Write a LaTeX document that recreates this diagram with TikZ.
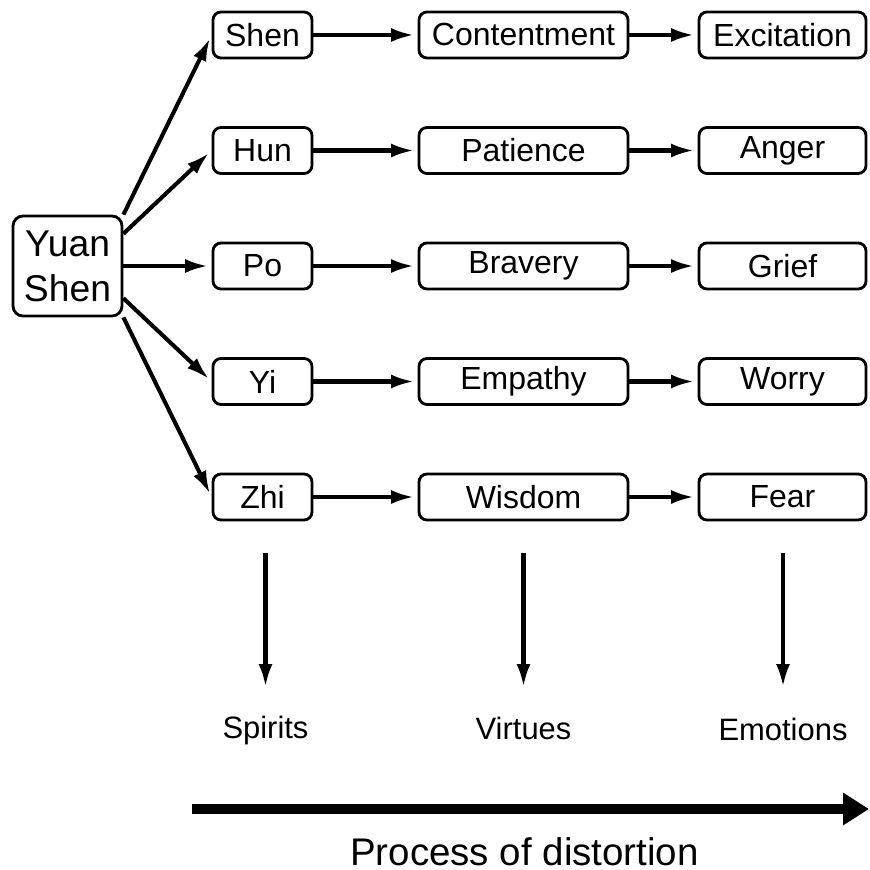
\documentclass[tikz,border=0pt]{standalone}
\usepackage{fontspec}
\setmainfont{Liberation Sans}
\usetikzlibrary{arrows.meta}

\tikzset{
  BoxNode/.style={draw,rounded corners=0.08cm,line width=0.8pt,minimum height=0.46cm,
    inner sep=0pt,font=\fontsize{9.1}{11}\selectfont},
  FlowArrow/.style={line width=1.15pt,-{Latex[length=0.23cm,width=0.14cm]},shorten >=1pt},
  LabelNode/.style={inner sep=0pt,anchor=north,font=\fontsize{8.8}{10.5}\selectfont}
}

\begin{document}
\begin{tikzpicture}
\useasboundingbox[fill=white] (0,0) rectangle (8.7,-8.7);

% Root node.
\node[BoxNode,minimum width=1.09cm,minimum height=1cm,rounded corners=0.1cm,align=center,
  font=\fontsize{10.6}{12.8}\selectfont] (yuan) at (0.675,-2.66) {Yuan\\Shen};

% Spirits.
\node[BoxNode,minimum width=0.99cm] (shen) at (2.625,-0.35) {Shen};
\node[BoxNode,minimum width=0.99cm] (hun)  at (2.625,-1.505) {Hun};
\node[BoxNode,minimum width=0.99cm] (po)   at (2.625,-2.66) {Po};
\node[BoxNode,minimum width=0.99cm] (yi)   at (2.625,-3.815) {Yi};
\node[BoxNode,minimum width=0.99cm] (zhi)  at (2.625,-4.97) {Zhi};

% Virtues.
\node[BoxNode,minimum width=2.09cm] (contentment) at (5.235,-0.35) {Contentment};
\node[BoxNode,minimum width=2.09cm] (patience)    at (5.235,-1.505) {Patience};
\node[BoxNode,minimum width=2.09cm] (bravery)     at (5.235,-2.66) {Bravery};
\node[BoxNode,minimum width=2.09cm] (empathy)     at (5.235,-3.815) {Empathy};
\node[BoxNode,minimum width=2.09cm] (wisdom)      at (5.235,-4.97) {Wisdom};

% Emotions.
\node[BoxNode,minimum width=1.67cm] (excitation) at (7.825,-0.35) {Excitation};
\node[BoxNode,minimum width=1.67cm] (anger)      at (7.825,-1.505) {Anger};
\node[BoxNode,minimum width=1.67cm] (grief)      at (7.825,-2.66) {Grief};
\node[BoxNode,minimum width=1.67cm] (worry)      at (7.825,-3.815) {Worry};
\node[BoxNode,minimum width=1.67cm] (fear)       at (7.825,-4.97) {Fear};

% Fan out from the root.
\draw[FlowArrow] (yuan.north east) -- (shen.west);
\draw[FlowArrow] (yuan.30) -- (hun.west);
\draw[FlowArrow] (yuan.east) -- (po.west);
\draw[FlowArrow] (yuan.-30) -- (yi.west);
\draw[FlowArrow] (yuan.south east) -- (zhi.west);

% Row arrows.
\draw[FlowArrow] (shen) -- (contentment);
\draw[FlowArrow] (hun) -- (patience);
\draw[FlowArrow] (po) -- (bravery);
\draw[FlowArrow] (yi) -- (empathy);
\draw[FlowArrow] (zhi) -- (wisdom);
\draw[FlowArrow] (contentment) -- (excitation);
\draw[FlowArrow] (patience) -- (anger);
\draw[FlowArrow] (bravery) -- (grief);
\draw[FlowArrow] (empathy) -- (worry);
\draw[FlowArrow] (wisdom) -- (fear);

% Column captions.
\node[LabelNode] (spirits)  at (2.655,-7.15) {Spirits};
\node[LabelNode] (virtues)  at (5.235,-7.16) {Virtues};
\node[LabelNode] (emotions) at (7.83,-7.17) {Emotions};

\coordinate (spiritstop)  at (2.655,-5.53);
\coordinate (virtuestop)  at (5.235,-5.53);
\coordinate (emotionstop) at (7.83,-5.53);

\draw[FlowArrow,shorten >=0.28cm] (spiritstop) -- (spirits.north);
\draw[FlowArrow,shorten >=0.29cm] (virtuestop) -- (virtues.north);
\draw[FlowArrow,shorten >=0.30cm] (emotionstop) -- (emotions.north);

% Process arrow.
\coordinate (procstart) at (1.92,-8.09);
\coordinate (procend)   at (8.69,-8.09);
\draw[line width=3.1pt,-{Triangle[length=0.26cm,width=0.31cm]}] (procstart) -- (procend);
\node[inner sep=0pt,anchor=north,font=\fontsize{10.95}{13}\selectfont] (process) at (5.245,-8.37) {Process of distortion};

\end{tikzpicture}
\end{document}
